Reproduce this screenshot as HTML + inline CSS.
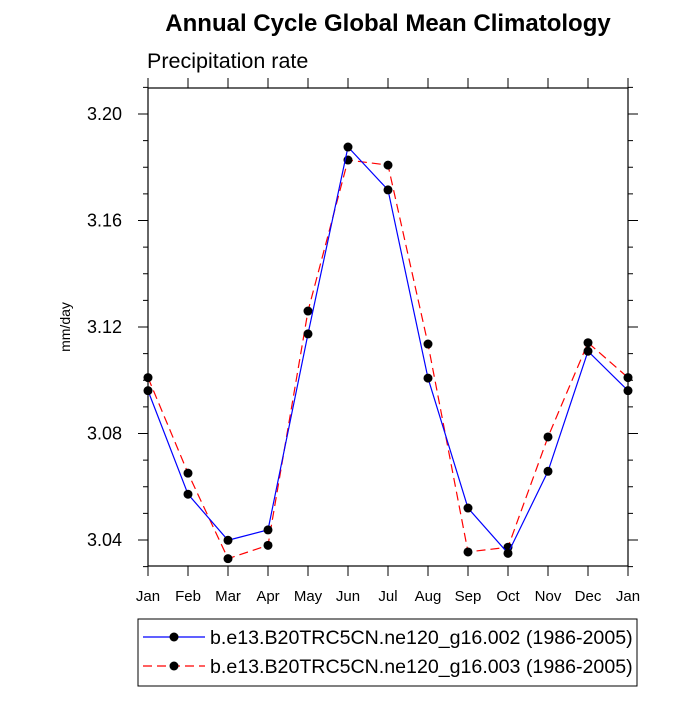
<!DOCTYPE html>
<html><head><meta charset="utf-8"><style>
body{margin:0;background:#fff;font-family:"Liberation Sans",sans-serif}
svg text{font-family:"Liberation Sans",sans-serif}
</style></head><body>
<svg width="700" height="700" id="c">
<text x="388" y="31" font-size="24" font-weight="bold" text-anchor="middle">Annual Cycle Global Mean Climatology</text>
<text x="147" y="68" font-size="21.5">Precipitation rate</text>
<text transform="translate(70,327) rotate(-90)" font-size="14" text-anchor="middle">mm/day</text>
<g id="g"></g>
<rect x="138" y="619" width="499" height="67" fill="none" stroke="#000" stroke-width="1"/>
<g>
<line x1="143" y1="637" x2="205" y2="637" stroke="#00f" stroke-width="1.2"/>
<circle cx="174" cy="637" r="4.5"/>
<text x="210" y="644" font-size="19.6">b.e13.B20TRC5CN.ne120_g16.002 (1986-2005)</text></g>
<g>
<line x1="143" y1="666" x2="205" y2="666" stroke="#f00" stroke-width="1.2" stroke-dasharray="9,5"/>
<circle cx="174" cy="666" r="4.5"/>
<text x="210" y="673" font-size="19.6">b.e13.B20TRC5CN.ne120_g16.003 (1986-2005)</text></g>
</svg>
<script>
const months=["Jan","Feb","Mar","Apr","May","Jun","Jul","Aug","Sep","Oct","Nov","Dec","Jan"];
const seriesA=[3.0961,3.0572,3.0399,3.0438,3.1174,3.1876,3.1715,3.1008,3.0520,3.0350,3.0658,3.1109,3.0961];
const seriesB=[3.1010,3.0651,3.0330,3.0380,3.1260,3.1827,3.1808,3.1136,3.0355,3.0373,3.0787,3.1141,3.1010];
const yTicks=[3.04,3.08,3.12,3.16,3.20];
const yTickLabels=["3.04","3.08","3.12","3.16","3.20"];
const L=148,R=628,T=88,B=566;
const X=i=>L+i*(R-L)/12;
const Y=v=>540-(v-3.04)*106.5/0.04;
const ns="http://www.w3.org/2000/svg",g=document.getElementById('g');
function mk(t,a){const e=document.createElementNS(ns,t);for(const k in a)e.setAttribute(k,a[k]);g.appendChild(e);return e;}
const frame=mk('rect',{x:L,y:T,width:R-L,height:B-T,fill:'none',stroke:'#000','stroke-width':1.2});


for(let v=3.03;v<=3.2101;v+=0.01){const y=Y(v);const maj=yTicks.some(t=>Math.abs(t-v)<1e-6);const len=maj?10:5;
mk('line',{x1:L,y1:y,x2:L-len,y2:y,stroke:'#000'});mk('line',{x1:R,y1:y,x2:R+len,y2:y,stroke:'#000'});}
yTicks.forEach((v,i)=>{const t=mk('text',{x:L-26,y:Y(v)+6,'font-size':18,'text-anchor':'end'});t.textContent=yTickLabels[i];

});
months.forEach((m,i)=>{const x=X(i);mk('line',{x1:x,y1:B,x2:x,y2:B+10,stroke:'#000'});mk('line',{x1:x,y1:T,x2:x,y2:T-10,stroke:'#000'});
const t=mk('text',{x:x,y:B+35,'font-size':15,'text-anchor':'middle'});t.textContent=m;

});
function series(d,col,dash,name){const p=mk('polyline',{points:d.map((v,i)=>X(i)+','+Y(v)).join(' '),fill:'none',stroke:col,'stroke-width':1.2,'stroke-dasharray':dash});


d.forEach((v,i)=>{const c=mk('circle',{cx:X(i),cy:Y(v),r:4.5});

});}
series(seriesB,'#f00','9,5','series-003');
series(seriesA,'#00f','none','series-002');
</script>
</body></html>
